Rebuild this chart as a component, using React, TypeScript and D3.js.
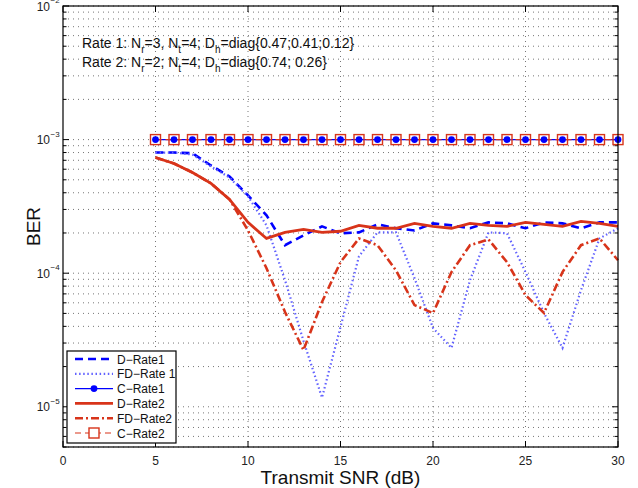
import React from "react";
import * as d3 from "d3";

// transmit SNR (dB)
const snr = [5, 6, 7, 8, 9, 10, 11, 12, 13, 14, 15, 16, 17, 18, 19, 20, 21, 22, 23, 24, 25, 26, 27, 28, 29, 30];

const dRate1 = [8.0e-4, 8.0e-4, 7.9e-4, 6.4e-4, 5.3e-4, 3.82e-4, 2.71e-4, 1.62e-4, 1.92e-4, 2.24e-4, 1.99e-4, 2.02e-4, 2.32e-4,
  2.17e-4, 2.09e-4, 2.36e-4, 2.28e-4, 2.17e-4, 2.4e-4, 2.36e-4, 2.17e-4, 2.4e-4, 2.36e-4, 2.17e-4, 2.4e-4, 2.4e-4];
const fdRate1 = [8.0e-4, 8.0e-4, 7.73e-4, 6.29e-4, 5.2e-4, 3.76e-4, 2.28e-4, 8.87e-5, 3.11e-5, 1.17e-5, 3.95e-5, 1.34e-4, 2.02e-4,
  2.02e-4, 9.18e-5, 3.89e-5, 2.76e-5, 8.87e-5, 2.02e-4, 1.99e-4, 1.02e-4, 5.03e-5, 2.76e-5, 7.47e-5, 1.82e-4, 2.17e-4];
const cRate1 = [1e-3, 1e-3, 1e-3, 1e-3, 1e-3, 1e-3, 1e-3, 1e-3, 1e-3, 1e-3, 1e-3, 1e-3, 1e-3,
  1e-3, 1e-3, 1e-3, 1e-3, 1e-3, 1e-3, 1e-3, 1e-3, 1e-3, 1e-3, 1e-3, 1e-3, 1e-3];
const dRate2 = [7.34e-4, 6.62e-4, 5.67e-4, 4.7e-4, 3.57e-4, 2.4e-4, 1.82e-4, 2.02e-4, 2.13e-4, 2.02e-4, 2.06e-4, 2.28e-4, 2.17e-4,
  2.17e-4, 2.36e-4, 2.24e-4, 2.17e-4, 2.36e-4, 2.28e-4, 2.24e-4, 2.4e-4, 2.32e-4, 2.24e-4, 2.44e-4, 2.36e-4, 2.24e-4];
const fdRate2 = [7.34e-4, 6.62e-4, 5.67e-4, 4.7e-4, 3.57e-4, 2.09e-4, 1.09e-4, 5.12e-5, 2.66e-5, 6.08e-5, 1.21e-4, 1.82e-4, 1.62e-4,
  1.05e-4, 5.77e-5, 5.03e-5, 1.02e-4, 1.62e-4, 1.79e-4, 1.21e-4, 6.85e-5, 5.03e-5, 1.02e-4, 1.62e-4, 1.82e-4, 1.25e-4];
const cRate2 = [1e-3, 1e-3, 1e-3, 1e-3, 1e-3, 1e-3, 1e-3, 1e-3, 1e-3, 1e-3, 1e-3, 1e-3, 1e-3,
  1e-3, 1e-3, 1e-3, 1e-3, 1e-3, 1e-3, 1e-3, 1e-3, 1e-3, 1e-3, 1e-3, 1e-3, 1e-3];

const xTicks = [0, 5, 10, 15, 20, 25, 30];
const yExponents = [-2, -3, -4, -5];
const legendLabels = ["D\u2212Rate1", "FD\u2212Rate 1", "C\u2212Rate1", "D\u2212Rate2", "FD\u2212Rate2", "C\u2212Rate2"];

const BLUE = "#0000ff";
const RED = "#d8341a";
const FONT = "'Liberation Sans', Arial, Helvetica, sans-serif";

const left = 63, right = 618, top = 6, bottom = 447;

const x = d3.scaleLinear().domain([0, 30]).range([left, right]);
const y = d3.scaleLog().domain([5e-6, 1e-2]).range([bottom, top]);

const styles = [
  { color: BLUE, width: 2.6, dash: "8,5", marker: "" },
  { color: "#6262ff", width: 2.2, dash: "1.5,2.6", marker: "" },
  { color: BLUE, width: 1.2, dash: "", marker: "circle" },
  { color: RED, width: 2.8, dash: "", marker: "" },
  { color: RED, width: 2.6, dash: "8,3,2,3", marker: "" },
  { color: RED, width: 1.2, dash: "6,4", marker: "square" },
];

const seriesList = [dRate1, fdRate1, cRate1, dRate2, fdRate2, cRate2];

export default function App() {
  const line = d3
    .line<number>()
    .x((_, i) => x(snr[i]))
    .y((d) => y(d));

  const allTicks = y.ticks().filter((t) => t >= 5e-6 && t <= 1e-2);
  const isMajor = (t: number) => Math.abs(Math.log10(t) - Math.round(Math.log10(t))) < 1e-9;

  return (
    <svg width={638} height={488} style={{ position: "absolute", left: 0, top: 0, background: "#fff" }} fontFamily={FONT}>
      <rect x={0} y={0} width={638} height={488} fill="#fff" />
      {/* grid */}
      <g stroke="#666" strokeWidth={0.9} strokeDasharray="1,4">
        {allTicks.map((t, i) => (
          <line key={"h" + i} x1={left} x2={right} y1={y(t)} y2={y(t)} />
        ))}
        {xTicks.slice(1, -1).map((t) => (
          <line key={"v" + t} x1={x(t)} x2={x(t)} y1={top} y2={bottom} />
        ))}
      </g>
      {/* ticks */}
      <g stroke="#000" strokeWidth={1}>
        {allTicks.map((t, i) => {
          const len = isMajor(t) ? 6 : 3.5;
          return (
            <g key={"t" + i}>
              <line x1={left} x2={left + len} y1={y(t)} y2={y(t)} />
              <line x1={right} x2={right - len} y1={y(t)} y2={y(t)} />
            </g>
          );
        })}
        {xTicks.map((t) => (
          <g key={"xt" + t}>
            <line x1={x(t)} x2={x(t)} y1={bottom} y2={bottom - 6} />
            <line x1={x(t)} x2={x(t)} y1={top} y2={top + 6} />
          </g>
        ))}
      </g>
      {/* series */}
      {seriesList.map((s, k) => (
        <path
          key={"s" + k}
          d={line(s) || ""}
          fill="none"
          stroke={styles[k].color}
          strokeWidth={styles[k].width}
          strokeDasharray={styles[k].dash || undefined}
        />
      ))}
      {cRate1.map((v, i) => (
        <circle key={"c1" + i} cx={x(snr[i])} cy={y(v)} r={3.4} fill={BLUE} />
      ))}
      {cRate2.map((v, i) => (
        <rect key={"c2" + i} x={x(snr[i]) - 5} y={y(v) - 5} width={10} height={10} fill="none" stroke={RED} strokeWidth={1.4} />
      ))}
      {/* frame */}
      <rect x={left} y={top} width={right - left} height={bottom - top} fill="none" stroke="#000" strokeWidth={1.2} />
      {/* tick labels */}
      <g fill="#222" fontSize={12}>
        {xTicks.map((t) => (
          <text key={"xl" + t} x={x(t)} y={465} textAnchor="middle">
            {t}
          </text>
        ))}
        {yExponents.map((e) => (
          <g key={"yl" + e}>
            <text x={50} y={y(Math.pow(10, e)) + 4.5} textAnchor="end">
              10
            </text>
            <text x={50.5} y={y(Math.pow(10, e)) - 3} fontSize={8}>
              {"\u2212" + Math.abs(e)}
            </text>
          </g>
        ))}
      </g>
      {/* axis labels */}
      <text x={(left + right) / 2} y={484} textAnchor="middle" fontSize={19} fill="#111">
        Transmit SNR (dB)
      </text>
      <text transform={`translate(40,${(top + bottom) / 2}) rotate(-90)`} textAnchor="middle" fontSize={19} fill="#111">
        BER
      </text>
      {/* annotation */}
      <g fontSize={14} fill="#111">
        <text x={82} y={48}>
          Rate 1: N<tspan dy={5} fontSize={10}>r</tspan>
          <tspan dy={-5}>=3, N</tspan>
          <tspan dy={5} fontSize={10}>t</tspan>
          <tspan dy={-5}>=4; D</tspan>
          <tspan dy={5} fontSize={10}>h</tspan>
          <tspan dy={-5}>=diag{"{"}0.47;0.41;0.12{"}"}</tspan>
        </text>
        <text x={82} y={67}>
          Rate 2: N<tspan dy={5} fontSize={10}>r</tspan>
          <tspan dy={-5}>=2; N</tspan>
          <tspan dy={5} fontSize={10}>t</tspan>
          <tspan dy={-5}>=4; D</tspan>
          <tspan dy={5} fontSize={10}>h</tspan>
          <tspan dy={-5}>=diag{"{"}0.74; 0.26{"}"}</tspan>
        </text>
      </g>
      {/* legend */}
      <g>
        <rect x={67} y={351} width={109} height={92} fill="#fff" stroke="#000" strokeWidth={1.2} />
        {legendLabels.map((lab, i) => {
          const ly = 359 + i * 14.8;
          const st = styles[i];
          return (
            <g key={"lg" + i}>
              <line x1={75} x2={113} y1={ly} y2={ly} stroke={st.color} strokeWidth={st.width}
                strokeDasharray={st.dash || undefined} />
              {st.marker === "circle" && <circle cx={94} cy={ly} r={3.4} fill={BLUE} />}
              {st.marker === "square" && (
                <rect x={89} y={ly - 5} width={10} height={10} fill="#fff" stroke={RED} strokeWidth={1.4} />
              )}
              <text x={117} y={ly + 4.5} fontSize={12} fill="#111">
                {lab}
              </text>
            </g>
          );
        })}
      </g>
    </svg>
  );
}
